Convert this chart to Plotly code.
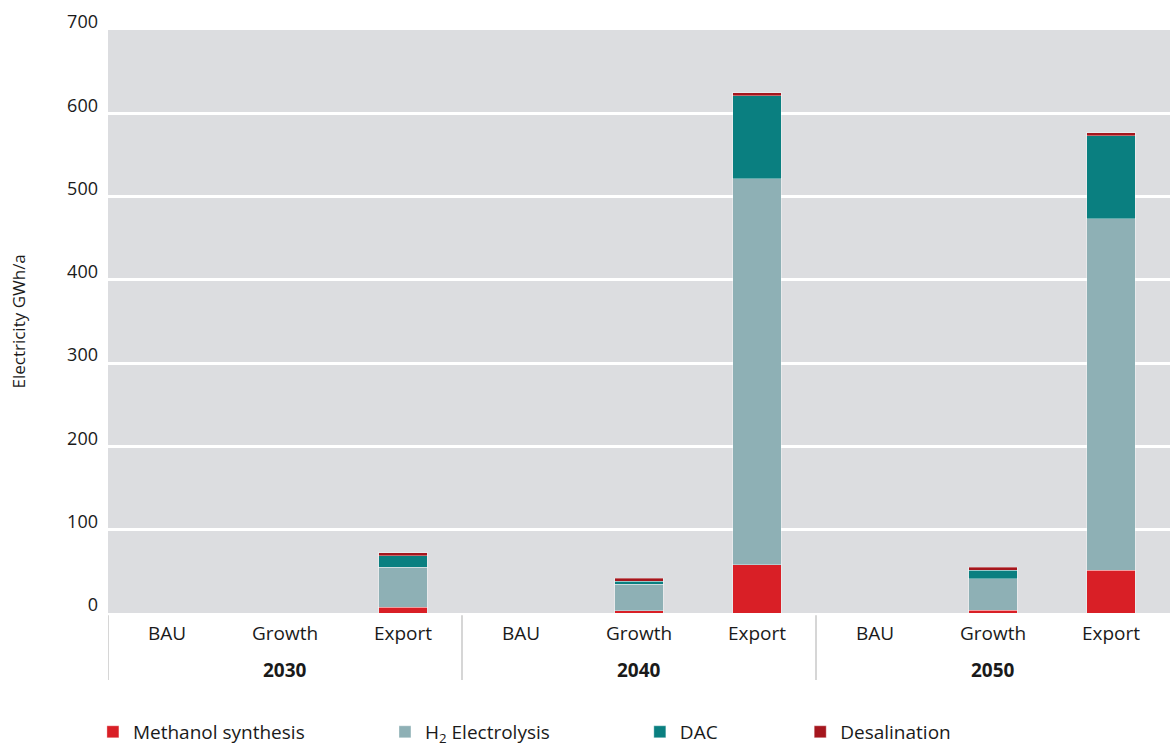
import plotly.graph_objects as go

years = ["2030", "2040", "2050"]
scenarios = ["BAU", "Growth", "Export", "BAU", "Growth", "Export", "BAU", "Growth", "Export"]

methanol = [0, 0, 6.7, 0, 3.0, 58.2, 0, 3.1, 51.3]
h2_electrolysis = [0, 0, 48.2, 0, 31.3, 463.5, 0, 38.2, 422.2]
dac = [0, 0, 13.7, 0, 3.6, 99.5, 0, 10.0, 99.5]
desalination = [0, 0, 3.6, 0, 3.6, 3.6, 0, 3.6, 3.6]

series_names = ["Methanol synthesis", "H<sub>2</sub> Electrolysis", "DAC", "Desalination"]
series_values = [methanol, h2_electrolysis, dac, desalination]
colors = ["#d91f26", "#8eb0b5", "#0a7f80", "#a5161d"]
y_ticks = [0, 100, 200, 300, 400, 500, 600, 700]

FONT = "'Open Sans', sans-serif"
TXT = "#1a1a1a"

xpos = list(range(len(scenarios)))
n_per_year = len(scenarios) // len(years)

fig = go.Figure()
legend_ids = ["legend", "legend2", "legend3", "legend4"]
legend_x = [-0.0142, 0.2608, 0.5008, 0.6518]
for name, vals, col, lg in zip(series_names, series_values, colors, legend_ids):
    fig.add_trace(go.Bar(
        x=xpos, y=vals, name=name, width=0.41,
        marker=dict(color=col, line=dict(color="rgba(255,255,255,0.35)", width=1)),
        legend=lg,
    ))

layout_legends = {}
for lg, lx in zip(legend_ids, legend_x):
    layout_legends[lg] = dict(
        x=lx, xanchor="left", y=-0.204, yanchor="middle",
        orientation="h", bgcolor="rgba(0,0,0,0)",
        font=dict(family=FONT, size=19, color=TXT),
        itemwidth=30, tracegroupgap=0,
    )

fig.update_layout(
    width=1170, height=745,
    margin=dict(l=108, r=0, t=30, b=132, autoexpand=False),
    paper_bgcolor="white",
    plot_bgcolor="#dcdde0",
    barmode="stack",
    font=dict(family=FONT, size=19, color=TXT),
    showlegend=True,
    **layout_legends,
)

fig.update_yaxes(
    range=[0, 700], automargin=False,
    tickvals=y_ticks,
    ticktext=[str(v) for v in y_ticks],
    showgrid=True, gridcolor="white", gridwidth=3,
    zeroline=False, showline=False,
    ticks="", ticklabelstandoff=9, ticklabelshift=-8,
    tickfont=dict(family=FONT, size=18, color=TXT),
)
fig.update_xaxes(
    range=[-0.5, len(scenarios) - 0.5], automargin=False,
    tickvals=xpos, ticktext=scenarios,
    showgrid=False, showline=False, zeroline=False,
    ticks="", ticklabelstandoff=7,
    tickfont=dict(family=FONT, size=19, color=TXT),
)

# year group labels and dividers
for i, yr in enumerate(years):
    center = i * n_per_year + (n_per_year - 1) / 2
    fig.add_annotation(
        text="<b>%s</b>" % yr, xref="x", yref="paper",
        x=center, y=-0.0978, showarrow=False,
        xanchor="center", yanchor="middle",
        font=dict(family=FONT, size=19, color=TXT),
    )
    fig.add_shape(
        type="line", xref="x", yref="paper",
        x0=i * n_per_year - 0.5, x1=i * n_per_year - 0.5,
        y0=-0.004, y1=-0.115,
        line=dict(color="#d6d6d6", width=2),
    )

fig.add_annotation(
    text="Electricity GWh/a", xref="paper", yref="paper",
    x=0, y=0.5, xshift=-90, textangle=-90, showarrow=False,
    font=dict(family=FONT, size=17, color=TXT),
    xanchor="center", yanchor="middle",
)

fig.write_html(
    "out.html",
    config={"displayModeBar": False},
    post_script="document.body.style.margin='0';document.body.style.padding='0';",
)
